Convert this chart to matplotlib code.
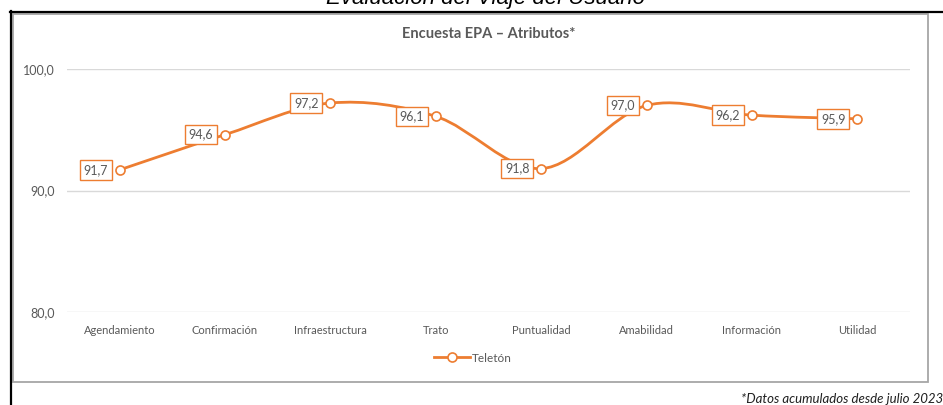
import numpy as np
import matplotlib.pyplot as plt
from matplotlib.path import Path
from matplotlib.patches import PathPatch, Rectangle
from matplotlib.lines import Line2D

categorias = ['Agendamiento', 'Confirmación', 'Infraestructura', 'Trato',
              'Puntualidad', 'Amabilidad', 'Información', 'Utilidad']
teleton = [91.7, 94.6, 97.2, 96.1, 91.8, 97.0, 96.2, 95.9]
y_ticks = [80, 90, 100]

ORANGE = '#ED7D31'
GRAY_TXT = '#595959'
W, H = 943, 405

plt.rcParams['font.family'] = ['Lato', 'DejaVu Sans']


def fx(px):
    return px / W


def fy(py):
    return 1 - py / H


def smooth_path(xs, ys):
    # bezier tipo "linea suavizada" de Excel (catmull-rom)
    pts = np.column_stack([xs, ys]).astype(float)
    n = len(pts)
    verts = [pts[0]]
    codes = [Path.MOVETO]
    for i in range(n - 1):
        p0 = pts[i - 1] if i > 0 else pts[i]
        p1 = pts[i]
        p2 = pts[i + 1]
        p3 = pts[i + 2] if i + 2 < n else pts[i + 1]
        c1 = p1 + (p2 - p0) / 6
        c2 = p2 - (p3 - p1) / 6
        verts += [c1, c2, p2]
        codes += [Path.CURVE4] * 3
    return Path(verts, codes)


fig = plt.figure(figsize=(W / 100, H / 100), dpi=100)

# marco del documento
fig.add_artist(Line2D([fx(10), fx(943)], [fy(11.5), fy(11.5)], color='black', lw=1.6,
                      transform=fig.transFigure))
fig.add_artist(Line2D([fx(10.5), fx(10.5)], [fy(11), fy(405)], color='black', lw=1.6,
                      transform=fig.transFigure))
fig.add_artist(Rectangle((fx(13), fy(382)), fx(928) - fx(13), fy(14) - fy(382),
                         fill=False, ec='#A6A6A6', lw=1.3, transform=fig.transFigure))

fig.text(fx(485), fy(4), 'Evaluación del Viaje del Usuario', ha='center', va='baseline',
         fontsize=16, style='italic', family=['Liberation Sans', 'DejaVu Sans'], color='black')
fig.text(fx(943), fy(403), '*Datos acumulados desde julio 2023', ha='right', va='baseline',
         fontsize=9.5, style='italic', color='#202020')

ax = fig.add_axes([fx(67), fy(312), fx(910) - fx(67), fy(69) - fy(312)])
x = np.arange(len(categorias))
ax.set_xlim(-0.5, len(categorias) - 0.5)
ax.set_ylim(80, 100)
ax.set_yticks(y_ticks)
ax.set_yticklabels([f'{v:.1f}'.replace('.', ',') for v in y_ticks], fontsize=9, color=GRAY_TXT)
ax.set_xticks(x)
ax.set_xticklabels(categorias, fontsize=8, color=GRAY_TXT)
ax.tick_params(length=0)
ax.tick_params(axis='y', pad=9)
ax.tick_params(axis='x', pad=9)
for s in ax.spines.values():
    s.set_visible(False)
ax.grid(axis='y', color='#D9D9D9', lw=1)
ax.set_axisbelow(True)

ax.add_patch(PathPatch(smooth_path(x, teleton), fc='none', ec=ORANGE, lw=2, clip_on=False))
ax.plot(x, teleton, ls='none', marker='o', ms=6.5, mfc='white', mec=ORANGE, mew=1.2, clip_on=False,
        zorder=3)
legend_handle = Line2D([], [], color=ORANGE, lw=2, marker='o', ms=6.5, mfc='white', mec=ORANGE,
                       mew=1.2)

for xi, v in zip(x, teleton):
    ax.annotate(f'{v:.1f}'.replace('.', ','), (xi, v), xytext=(-24, 0), textcoords='offset pixels',
                ha='center', va='center', fontsize=9, color=GRAY_TXT, zorder=4,
                bbox=dict(boxstyle='square,pad=0.3', fc='white', ec=ORANGE, lw=1))

ax.set_title('Encuesta EPA – Atributos*', fontsize=10.5, fontweight='bold', color=GRAY_TXT, pad=22)

fig.legend([legend_handle], ['Teletón'], loc='center', bbox_to_anchor=(fx(473), fy(358)),
           frameon=False, fontsize=8.5, labelcolor=GRAY_TXT, handlelength=3, handletextpad=0.2)

fig.savefig('out.png', dpi=100)
